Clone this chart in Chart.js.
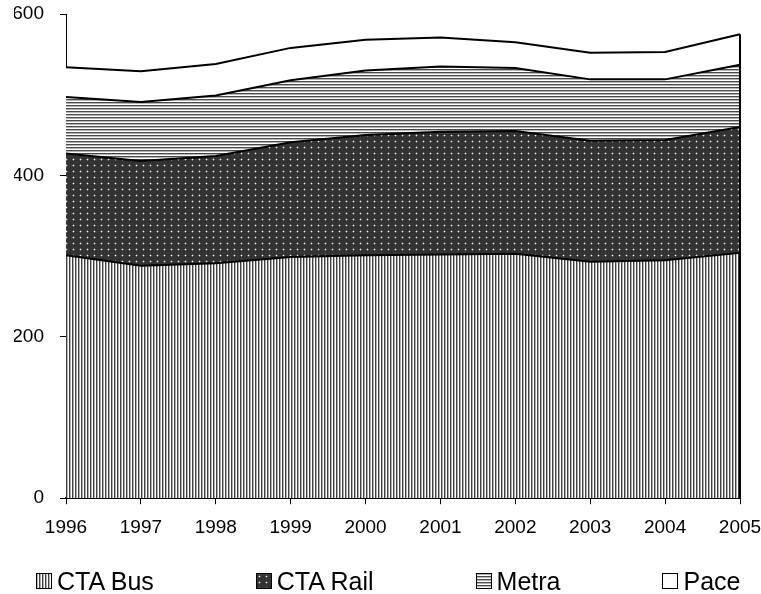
<!DOCTYPE html>
<html lang="en">
<head>
<meta charset="UTF-8">
<title>Transit ridership</title>
<style>
  body { margin: 0; background: #fff; font-family: 'Liberation Sans', Arial, sans-serif; }
  .wrap { position: relative; width: 761px; height: 594px; }
  #chart { position: absolute; left: 0; top: 0; }
  .legend { position: absolute; left: 36px; top: 567px; display: flex; align-items: center; white-space: nowrap; width: 760px; }
  .legend-item { display: flex; align-items: center; flex-shrink: 0; margin-right: 102px; font-size: 25px; line-height: 28px; color: #000; }
  .legend-item canvas { display: block; margin-right: 5px; }
</style>
</head>
<body>
<div class="wrap">
  <canvas id="chart" width="761" height="594"></canvas>
  <div class="legend" id="legend"></div>
</div>

<script src="https://cdn.jsdelivr.net/npm/chart.js"></script>
<script>
  const years = ['1996', '1997', '1998', '1999', '2000', '2001', '2002', '2003', '2004', '2005'];
  const seriesNames = ['CTA Bus', 'CTA Rail', 'Metra', 'Pace'];
  const ctaBus = [301, 288, 291, 299, 301, 302, 303, 293, 295, 304];
  const ctaRail = [126, 130, 133, 142, 149, 152, 152, 150, 149, 156];
  const metra = [70, 73, 75, 77, 80, 81, 78, 76, 75, 77];
  const pace = [37, 38, 39, 40, 38, 36, 32, 33, 34, 38];
  const yTicks = [0, 200, 400, 600];

  // small tiles for the hatch fills
  function makeTile(w, h, draw) {
    const c = document.createElement('canvas');
    c.width = w; c.height = h;
    draw(c.getContext('2d'));
    return c;
  }

  const tiles = [
    makeTile(3, 1, g => {            // vertical stripes
      g.fillStyle = '#ffffff'; g.fillRect(0, 0, 3, 1);
      g.fillStyle = '#404040'; g.fillRect(0, 0, 1, 1);
      g.fillStyle = '#b0b0b0'; g.fillRect(1, 0, 1, 1);
    }),
    makeTile(7, 6, g => {            // dark with dots
      g.fillStyle = '#333333'; g.fillRect(0, 0, 7, 6);
      g.fillStyle = '#6e6e6e';
      g.fillRect(2, 3, 1, 1); g.fillRect(4, 3, 1, 1);
      g.fillRect(3, 2, 1, 1); g.fillRect(3, 4, 1, 1);
      g.fillStyle = '#f0f0f0'; g.fillRect(3, 3, 1, 1);
    }),
    makeTile(1, 3, g => {            // horizontal stripes
      g.fillStyle = '#ffffff'; g.fillRect(0, 0, 1, 3);
      g.fillStyle = '#4a4a4a'; g.fillRect(0, 0, 1, 1);
      g.fillStyle = '#b4b4b4'; g.fillRect(0, 1, 1, 1);
    }),
    makeTile(1, 1, g => {
      g.fillStyle = '#ffffff'; g.fillRect(0, 0, 1, 1);
    })
  ];

  const ctx = document.getElementById('chart').getContext('2d');
  const fills = tiles.map(t => ctx.createPattern(t, 'repeat'));

  Chart.defaults.font.family = "'Liberation Sans', Arial, sans-serif";
  Chart.defaults.color = '#000';

  // closes the stack on the right side like the spreadsheet does
  const rightEdge = {
    id: 'rightEdge',
    afterDatasetsDraw(chart) {
      const pts = chart.getDatasetMeta(chart.data.datasets.length - 1).data;
      const p = pts[pts.length - 1];
      const base = chart.scales.y.getPixelForValue(0);
      const c = chart.ctx;
      c.save();
      c.strokeStyle = '#000';
      c.lineWidth = 2;
      c.beginPath();
      c.moveTo(p.x, p.y);
      c.lineTo(p.x, base);
      c.stroke();
      c.restore();
    }
  };

  const values = [ctaBus, ctaRail, metra, pace];

  new Chart(ctx, {
    type: 'line',
    data: {
      labels: years,
      datasets: values.map((v, i) => ({
        label: seriesNames[i],
        data: v,
        fill: i === 0 ? 'origin' : '-1',
        backgroundColor: fills[i],
        borderColor: '#000',
        borderWidth: 2,
        pointRadius: 0,
        tension: 0,
        clip: false
      }))
    },
    options: {
      responsive: false,
      animation: false,
      devicePixelRatio: 1,
      layout: { padding: { left: 14, top: 14, right: 0, bottom: 43 } },
      plugins: {
        legend: { display: false },
        tooltip: { enabled: false }
      },
      scales: {
        x: {
          offset: false,
          grid: { drawOnChartArea: false, tickLength: 6, color: '#000' },
          border: { color: '#000', width: 2 },
          ticks: { font: { size: 19 }, color: '#000', padding: 12, maxRotation: 0, autoSkip: false },
          afterFit: s => { s.paddingRight = 21; }
        },
        y: {
          stacked: true,
          min: 0,
          max: 600,
          afterBuildTicks: s => { s.ticks = yTicks.map(v => ({ value: v })); },
          afterFit: s => { s.width = 52; s.paddingTop = 0; s.paddingBottom = 0; },
          grid: { drawOnChartArea: false, tickLength: 6, color: '#000' },
          border: { color: '#000', width: 1 },
          ticks: { font: { size: 19 }, color: '#000', padding: 16 }
        }
      }
    },
    plugins: [rightEdge]
  });

  // legend under the chart, boxes use the same fills
  const legend = document.getElementById('legend');
  seriesNames.forEach((name, i) => {
    const item = document.createElement('div');
    item.className = 'legend-item';
    const box = document.createElement('canvas');
    box.width = 16; box.height = 16;
    const g = box.getContext('2d');
    g.fillStyle = g.createPattern(tiles[i], 'repeat');
    g.fillRect(0, 0, 16, 16);
    g.strokeStyle = '#000';
    g.lineWidth = 1;
    g.strokeRect(0.5, 0.5, 15, 15);
    item.appendChild(box);
    item.appendChild(document.createTextNode(name));
    legend.appendChild(item);
  });
</script>
</body>
</html>
